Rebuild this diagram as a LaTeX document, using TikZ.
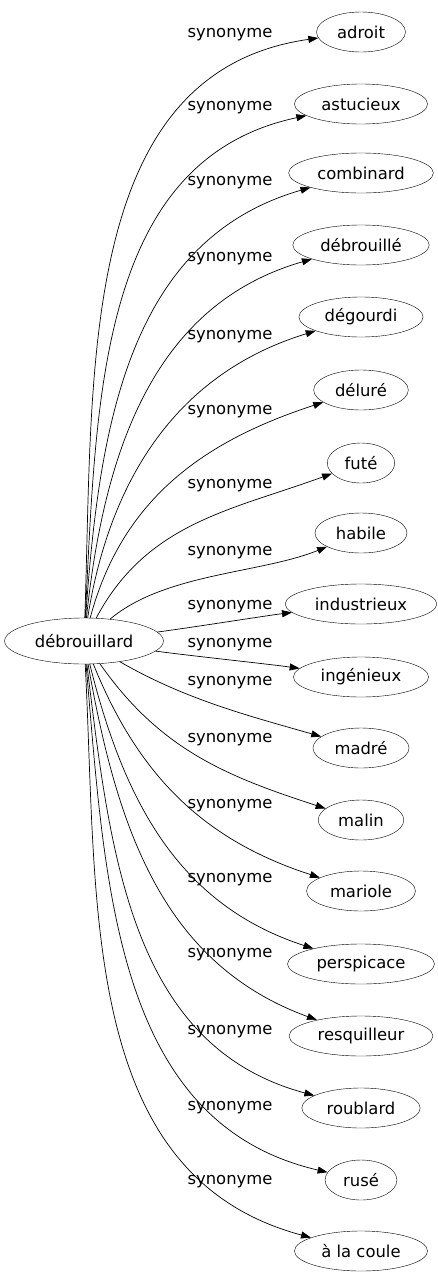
\documentclass[tikz,border=0pt]{standalone}
\usepackage{fontspec}
\setmainfont{DejaVu Sans}
\usetikzlibrary{arrows.meta, shapes.geometric}

\begin{document}
\begin{tikzpicture}[x=1pt, y=1pt,
    mot/.style={draw, ellipse, inner xsep=7.5pt, inner ysep=0pt, minimum height=40pt,
      font=\fontsize{16.4}{19}\selectfont},
    rel/.style={font=\fontsize{16.4}{19}\selectfont},
    fleche/.style={-{Triangle[length=10pt, width=7pt]}, line width=0.7pt}]
  \useasboundingbox (0,0) rectangle (438,-1283);
  % === mot central ===
  \node[mot, minimum height=46pt, inner xsep=7pt] (deb) at (84,-641) {débrouillard};
  % === synonymes ===
  \foreach \i/\txt/\ty/\ly/\o/\a/\lo in {
      1/adroit/32/35/88/188/1,
      2/astucieux/104/108/87/192/1,
      3/combinard/173/183/86/196/1,
      4/débrouillé/245/259/84/196/1,
      5/dégourdi/317/337/81/197/1,
      6/déluré/390/412/75/198/1,
      7/futé/463/486/62/200/1,
      8/habile/533/553/40/202/0.8,
      9/industrieux/604/607/7/187/0.5,
      10/ingénieux/677/645/-8/172/0.5,
      11/madré/748/683/-30/164/0.9,
      12/malin/820/740/-55/162/1,
      13/mariole/891/806/-68/162/1,
      14/perspicace/964/880/-76/162/1,
      15/resquilleur/1036/955/-80/160/1,
      16/roublard/1108/1032/-83/165/1,
      17/rusé/1180/1108/-85/167/1,
      18/à la coule/1251/1182/-87/165/1} {
    \node[mot] (s\i) at (361,-\ty) {\txt};
    \node[rel] (l\i) at (230,-\ly) {synonyme};
    \draw[fleche] (deb) to[out=\o, in=\a, looseness=\lo] (s\i);
  }
\end{tikzpicture}
\end{document}
